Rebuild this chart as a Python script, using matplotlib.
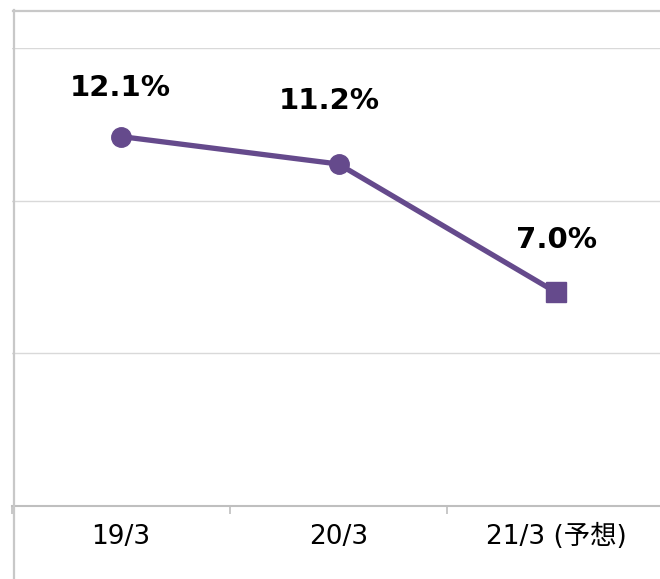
import matplotlib

matplotlib.use("Agg")
import matplotlib.pyplot as plt
from matplotlib.lines import Line2D
from matplotlib.ticker import FixedLocator

plt.rcParams["font.family"] = ["DejaVu Sans", "Noto Sans CJK JP"]

# data
categories = ["19/3", "20/3", "21/3 (予想)"]
values = [12.1, 11.2, 7.0]
value_labels = ["12.1%", "11.2%", "7.0%"]

W, H = 660, 579
fig = plt.figure(figsize=(W / 100, H / 100), dpi=100)
ax = fig.add_axes([12.25 / W, (H - 506) / H, (664.75 - 12.25) / W, (506 - 48) / H])

color = "#654A8C"
x = list(range(len(categories)))
ax.plot(x[:2], values[:2], color=color, lw=3.8, marker="o", ms=14, zorder=3,
        solid_capstyle="round")
ax.plot(x[1:], values[1:], color=color, lw=3.8, zorder=3, solid_capstyle="round")
ax.plot(x[2:], values[2:], color=color, lw=0, marker="s", ms=15, zorder=4)

# label offsets in pixels (dx, dy)
offsets = [(-1, 49), (-9, 63), (0, 52)]
for xi, v, lab, (dx, dy) in zip(x, values, value_labels, offsets):
    ax.annotate(lab, (xi, v), xytext=(dx * 0.72, dy * 0.72), textcoords="offset points",
                ha="center", va="center", fontsize=21, fontweight="bold", color="black")

ax.set_xlim(-0.5, 2.5)
ax.set_ylim(0, 15)
ax.set_yticks([0, 5, 10, 15])
ax.yaxis.grid(True, color="#d9d9d9", lw=1)
ax.set_axisbelow(True)
ax.tick_params(axis="y", length=0, labelleft=False)

ax.set_xticks(x)
ax.set_xticklabels(categories, fontsize=19)
ax.tick_params(axis="x", which="major", length=0, pad=13)
ax.xaxis.set_minor_locator(FixedLocator([-0.5, 0.5, 1.5, 2.5]))
ax.tick_params(axis="x", which="minor", length=6, width=1.2, color="#bfbfbf")

for side in ["top", "right", "left"]:
    ax.spines[side].set_visible(False)
ax.spines["bottom"].set_color("#bfbfbf")
ax.spines["bottom"].set_linewidth(1.5)

# chart border
fig.add_artist(Line2D([13.5 / W, 13.5 / W], [1 - 10 / H, 0], color="#c8c8c8", lw=1.6))
fig.add_artist(Line2D([13 / W, 1], [1 - 10.5 / H, 1 - 10.5 / H], color="#c8c8c8", lw=1.6))

fig.savefig("out.png", dpi=100)
